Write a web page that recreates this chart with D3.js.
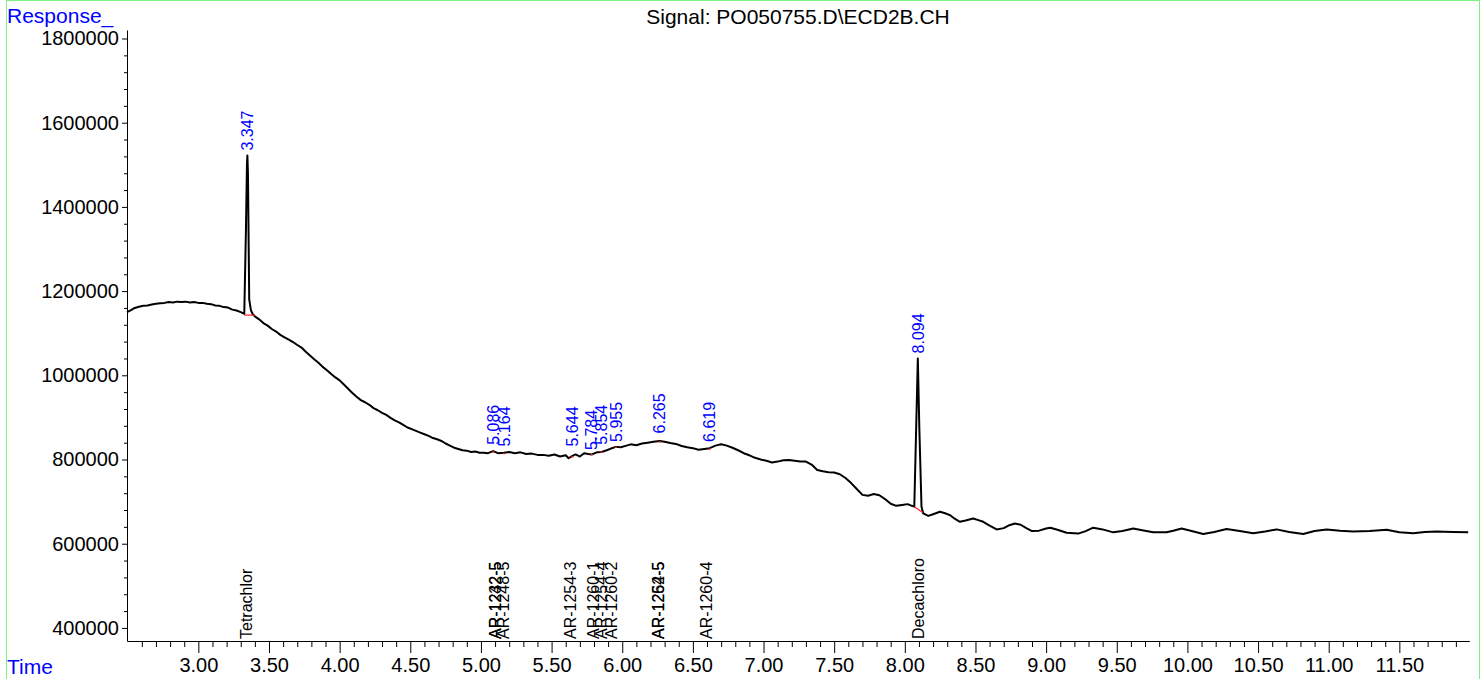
<!DOCTYPE html>
<html>
<head>
<meta charset="utf-8">
<script src="https://cdn.jsdelivr.net/npm/d3@7"></script>
<style>
  html, body { margin: 0; padding: 0; background: #fff; }
  svg { display: block; }
  text { font-family: "Liberation Sans", Arial, sans-serif; }
</style>
</head>
<body>
<svg id="chart" width="1482" height="679"></svg>
<script>
// ---------- DATA ----------
const titleText = "Signal: PO050755.D\\ECD2B.CH";
const yLabel = "Response_";
const xLabel = "Time";

// signal trace: retention time (min) and response
const traceTimes = [
  2.495,2.52,2.55,2.58,2.61,2.64,2.67,2.70,2.73,2.76,2.79,2.82,2.85,2.88,2.91,2.94,2.97,3.00,3.03,3.06,3.09,3.12,3.15,3.18,3.21,3.24,3.27,3.30,3.325,
  3.337,3.344,3.347,3.351,3.360,3.372,3.385,3.40,
  3.43,3.46,3.49,3.52,3.55,3.58,3.61,3.64,3.67,3.70,3.73,3.76,3.79,3.82,3.85,3.88,3.91,3.94,3.97,4.00,
  4.03,4.06,4.09,4.12,4.15,4.18,4.21,4.24,4.27,4.30,4.33,4.36,4.39,4.42,4.45,4.48,4.51,4.54,4.57,4.60,
  4.63,4.66,4.69,4.72,4.75,4.78,4.81,4.84,4.87,4.90,4.93,4.96,4.99,5.02,5.05,5.086,5.12,5.164,5.20,5.24,
  5.28,5.32,5.36,5.40,5.44,5.48,5.52,5.56,5.60,5.62,5.644,5.67,5.70,5.73,5.76,5.784,5.82,5.854,5.89,5.92,
  5.955,5.99,6.03,6.06,6.10,6.14,6.18,6.22,6.265,6.30,6.34,6.38,6.42,6.46,6.50,6.54,6.58,6.619,6.66,6.70,
  6.74,6.78,6.82,6.86,6.90,6.94,6.98,7.02,7.06,7.10,7.14,7.18,7.22,7.26,7.30,7.34,7.38,7.42,7.46,7.50,
  7.54,7.58,7.62,7.66,7.70,7.74,7.78,7.82,7.86,7.90,7.94,7.98,8.02,8.05,8.067,
  8.080,8.092,8.103,8.118,8.13,
  8.166,8.20,8.248,8.28,8.319,8.35,8.39,8.43,8.484,8.52,8.555,8.60,8.65,8.70,8.74,8.779,8.82,8.86,8.90,8.95,
  9.00,9.03,9.08,9.145,9.227,9.28,9.333,9.40,9.475,9.54,9.617,9.68,9.758,9.852,9.90,9.959,10.03,10.112,10.19,10.277,
  10.37,10.466,10.55,10.631,10.72,10.82,10.90,10.985,11.08,11.173,11.29,11.41,11.50,11.598,11.68,11.764,11.88,11.987
];
const traceResponses = [
  1150000,1154000,1160000,1163000,1165000,1166000,1168000,1170000,1171000,1172000,1174000,1173000,1175000,1174000,1175000,1173000,1174000,1172000,1172000,1170000,1169000,1166000,1165000,1162000,1161000,1156000,1154000,1150000,1146000,
  1350000,1500000,1522000,1480000,1180000,1155000,1145000,1140000,
  1133000,1124000,1118000,1110000,1104000,1096000,1090000,1085000,1079000,1072000,1066000,1056000,1047000,1038000,1030000,1020000,1012000,1003000,995000,988000,
  978000,968000,958000,949000,941000,936000,930000,922000,917000,911000,906000,899000,893000,888000,882000,876000,872000,868000,864000,860000,
  856000,851000,848000,844000,838000,833000,828000,825000,822000,821000,818000,819000,816000,816000,815000,820000,815000,816000,818000,815000,
  817000,813000,814000,811000,811000,809000,812000,807000,810000,803000,808000,812000,807000,815000,813000,812000,817000,818000,822000,826000,
  830000,829000,833000,836000,834000,838000,840000,842000,844000,842000,839000,837000,832000,829000,827000,823000,825000,827000,833000,836000,
  833000,828000,822000,815000,810000,804000,800000,797000,793000,795000,798000,799000,797000,795000,795000,788000,775000,772000,770000,769000,
  765000,756000,744000,730000,716000,714000,718000,715000,706000,695000,690000,692000,694000,690000,688000,
  870000,1040000,870000,688000,672000,
  666000,670000,676000,673000,668000,660000,652000,655000,660000,656000,652000,643000,634000,637000,644000,648000,645000,637000,630000,631000,
  636000,638000,633000,626000,624000,630000,638000,634000,627000,630000,636000,632000,627000,627000,631000,636000,630000,623000,628000,635000,
  630000,625000,629000,634000,628000,623000,630000,634000,631000,629000,630000,633000,627000,625000,628000,629000,628000,627000
];

// integrated peaks: retention time, apex response (label position), baseline start/end
const peakTimes     = [3.347, 5.086, 5.164, 5.644, 5.784, 5.854, 5.955, 6.265, 6.619, 8.094];
const peakApex      = [1522000, 823000, 819000, 819000, 811000, 823000, 830000, 850000, 830000, 1040000];
const baseStartTime = [3.325, 5.078, 5.156, 5.635, 5.776, 5.846, 5.947, 6.257, 6.611, 8.067];
const baseStartResp = [1143000, 818000, 814000, 806000, 812000, 817000, 829000, 842000, 825000, 688000];
const baseEndTime   = [3.400, 5.094, 5.172, 5.655, 5.792, 5.862, 5.963, 6.273, 6.627, 8.127];
const baseEndResp   = [1143000, 818000, 814000, 806000, 812000, 817000, 829000, 842000, 825000, 674000];

// compound names at expected retention times
const compoundNames = ["Tetrachlor","AR-1232-5","AR-1242-5","AR-1248-5","AR-1254-3","AR-1260-1","AR-1254-4","AR-1260-2","AR-1254-5","AR-1262-5","AR-1260-4","Decachloro"];
const compoundTimes = [3.342, 5.099, 5.099, 5.158, 5.630, 5.795, 5.854, 5.925, 6.255, 6.255, 6.598, 8.092];

// axis ticks
const xMajorTicks = [3.0,3.5,4.0,4.5,5.0,5.5,6.0,6.5,7.0,7.5,8.0,8.5,9.0,9.5,10.0,10.5,11.0,11.5];
const yMajorTicks = [400000,600000,800000,1000000,1200000,1400000,1600000,1800000];

// ---------- DRAW ----------
const svg = d3.select("#chart");
svg.append("rect").attr("x",0).attr("y",0).attr("width",1482).attr("height",679).attr("fill","#fff");
svg.append("rect").attr("x",6.5).attr("y",0.5).attr("width",1473).attr("height",700)
  .attr("fill","none").attr("stroke","#7ef07e").attr("stroke-width",1);

const x = d3.scaleLinear().domain([2.495, 11.995]).range([127, 1469.3]);
const y = d3.scaleLinear().domain([368900, 1820200]).range([641, 30]);

const xMinor = d3.range(26, 120).map(d => d / 10).filter(d => !xMajorTicks.some(m => Math.abs(m - d) < 1e-6));
const yMinor = d3.range(400000, 1800001, 40000).filter(d => d % 200000 !== 0);

// axes
const gx = svg.append("g").attr("transform","translate(0,641)");
gx.call(d3.axisBottom(x).tickValues(xMinor).tickSize(6).tickSizeOuter(0).tickFormat(""));
const gx2 = svg.append("g").attr("transform","translate(0,641)");
gx2.call(d3.axisBottom(x).tickValues(xMajorTicks).tickSize(12).tickSizeOuter(0).tickPadding(4.5).tickFormat(d3.format(".2f")));
gx2.select(".domain").remove();

const gy = svg.append("g").attr("transform","translate(127,0)");
gy.call(d3.axisLeft(y).tickValues(yMinor).tickSize(3).tickSizeOuter(0).tickFormat(""));
const gy2 = svg.append("g").attr("transform","translate(127,0)");
gy2.call(d3.axisLeft(y).tickValues(yMajorTicks).tickSize(5).tickSizeOuter(0).tickPadding(3).tickFormat(d3.format("d")));
gy2.select(".domain").remove();

svg.selectAll(".tick text").attr("font-size", 20).attr("font-family","Liberation Sans, Arial, sans-serif").attr("fill","#000");
svg.selectAll(".domain, .tick line").attr("stroke","#000").attr("stroke-width",1);

// trace
const trace = traceTimes.map((t, i) => [t, traceResponses[i]]);
svg.append("path")
  .datum(trace)
  .attr("fill","none")
  .attr("stroke","#000")
  .attr("stroke-width",2)
  .attr("stroke-linejoin","round")
  .attr("d", d3.line().x(d => x(d[0])).y(d => y(d[1])));

// integration baselines
svg.append("g").selectAll("line").data(peakTimes).join("line")
  .attr("x1",(d,i)=>x(baseStartTime[i])).attr("y1",(d,i)=>y(baseStartResp[i]))
  .attr("x2",(d,i)=>x(baseEndTime[i])).attr("y2",(d,i)=>y(baseEndResp[i]))
  .attr("stroke","#ff2020").attr("stroke-width",1.2);

// peak RT labels
svg.append("g").selectAll("text").data(peakTimes).join("text")
  .attr("transform",(d,i)=>`translate(${x(d)},${y(peakApex[i]) - 5}) rotate(-90)`)
  .attr("dy","0.36em")
  .attr("text-anchor","start")
  .attr("font-size",16)
  .attr("fill","#0000ff")
  .text(d => d.toFixed(3));

// compound labels
svg.append("g").selectAll("text").data(compoundNames).join("text")
  .attr("transform",(d,i)=>`translate(${x(compoundTimes[i])},639) rotate(-90)`)
  .attr("dy","0.36em")
  .attr("text-anchor","start")
  .attr("font-size",16)
  .attr("fill","#000")
  .text(d => d);

// title and axis names
svg.append("text").attr("x",798).attr("y",24).attr("text-anchor","middle")
  .attr("font-size",21).attr("fill","#000").text(titleText);
svg.append("text").attr("x",7).attr("y",23).attr("font-size",21).attr("fill","#0000ff").text(yLabel);
svg.append("text").attr("x",7).attr("y",674).attr("font-size",21).attr("fill","#0000ff").text(xLabel);
</script>
</body>
</html>
